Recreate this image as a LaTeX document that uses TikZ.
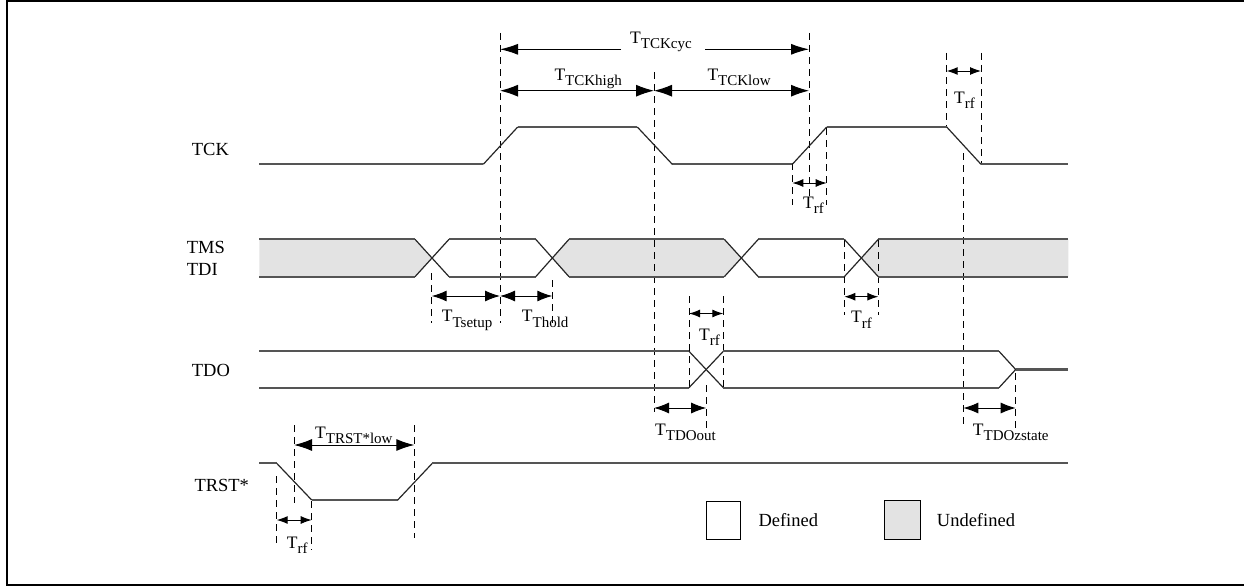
\documentclass[tikz,border=0pt]{standalone}
\usepackage{fontspec}
\setmainfont{Liberation Serif}
\usetikzlibrary{arrows.meta}
\definecolor{wavec}{HTML}{555555}
\definecolor{undef}{HTML}{E3E3E3}
\newcommand{\Tl}[1]{T\raisebox{-5.5pt}{\fontsize{15}{15}\selectfont #1}}
\begin{document}
\begin{tikzpicture}[x=1pt,y=-1pt,
 wire/.style={draw=wavec,line width=2.2pt},
 slope/.style={draw=black!85,line width=1.2pt},
 guide/.style={draw=black,line width=0.9pt,dash pattern=on 7pt off 5pt},
 dimbig/.style={draw=black,line width=1pt,{Latex[length=18pt,width=12pt]}-{Latex[length=18pt,width=12pt]}},
 dimmid/.style={draw=black,line width=1pt,{Latex[length=15pt,width=11pt]}-{Latex[length=15pt,width=11pt]}},
 dimsmall/.style={draw=black,line width=1pt,{Latex[length=11pt,width=8pt]}-{Latex[length=11pt,width=8pt]}},
 onehead/.style={draw=black,line width=1pt,-{Latex[length=18pt,width=11pt]}},
 sig/.style={anchor=base west,inner sep=0pt,font=\fontsize{18.5}{20}\selectfont},
 tlab/.style={anchor=base west,inner sep=0pt,font=\fontsize{17.5}{20}\selectfont},
 legbox/.style={draw=black,line width=1pt},
]
\useasboundingbox (0,0) rectangle (1244,586);
% frame
\draw[line width=2.5pt] (1244,1.2) -- (6.8,1.2) -- (6.8,584.8) -- (1244,584.8);

% ---------- TMS/TDI undefined fills ----------
\fill[undef] (259.3,239.3) -- (415,239.3) -- (432,258) -- (415,276.7) -- (259.3,276.7) -- cycle;
\fill[undef] (569,239.3) -- (724.3,239.3) -- (741.3,258) -- (724.3,276.7) -- (569,276.7) -- (552.3,258) -- cycle;
\fill[undef] (878.3,239.3) -- (1068.3,239.3) -- (1068.3,276.7) -- (878.3,276.7) -- (861.3,258) -- cycle;

% ---------- guide lines ----------
\draw[guide] (500,33) -- (500,323);
\draw[guide] (654,72) -- (654,412);
\draw[guide] (809,33) -- (809,196);
\draw[guide] (792.3,163) -- (792.3,205);
\draw[guide] (826.7,128) -- (826.7,205);
\draw[guide] (946.7,53) -- (946.7,127);
\draw[guide] (981,53) -- (981,164);
\draw[guide] (963.3,153) -- (963.3,427);
\draw[guide] (431.7,273) -- (431.7,323);
\draw[guide] (552.3,280) -- (552.3,323);
\draw[guide] (844.3,240) -- (844.3,315);
\draw[guide] (878.3,240) -- (878.3,315);
\draw[guide] (689,296) -- (689,390);
\draw[guide] (723.3,296) -- (723.3,390);
\draw[guide] (706.2,385) -- (706.2,430);
\draw[guide] (1015.7,373) -- (1015.7,430);
\draw[guide] (276.7,476) -- (276.7,547);
\draw[guide] (294,425) -- (294,503);
\draw[guide] (311.7,501) -- (311.7,550);
\draw[guide] (414.3,425) -- (414.3,538);

% ---------- TCK ----------
\draw[wire] (259.3,164.3) -- (483.3,164.3);
\draw[wire] (517.7,127) -- (637.3,127);
\draw[wire] (672.3,164.3) -- (792.3,164.3);
\draw[wire] (826.7,127) -- (946.7,127);
\draw[wire] (981,164.3) -- (1068.3,164.3);
\draw[slope] (483.3,164.3) -- (517.7,127);
\draw[slope] (637.3,127) -- (672.3,164.3);
\draw[slope] (792.3,164.3) -- (826.7,127);
\draw[slope] (946.7,127) -- (981,164.3);

% ---------- TMS/TDI ----------
\draw[wire] (259.3,239.3) -- (415,239.3);
\draw[wire] (259.3,276.7) -- (415,276.7);
\draw[wire] (449,239.3) -- (535.7,239.3);
\draw[wire] (449,276.7) -- (535.7,276.7);
\draw[wire] (569,239.3) -- (724.3,239.3);
\draw[wire] (569,276.7) -- (724.3,276.7);
\draw[wire] (758.3,239.3) -- (844.3,239.3);
\draw[wire] (758.3,276.7) -- (844.3,276.7);
\draw[wire] (878.3,239.3) -- (1068.3,239.3);
\draw[wire] (878.3,276.7) -- (1068.3,276.7);
\foreach \a/\b in {415/449,535.7/569,724.3/758.3,844.3/878.3}{
  \draw[slope] (\a,239.3) -- (\b,276.7);
  \draw[slope] (\a,276.7) -- (\b,239.3);
}

% ---------- TDO ----------
\draw[wire] (259.3,351.3) -- (689,351.3);
\draw[wire] (259.3,387.7) -- (689,387.7);
\draw[slope] (689,351.3) -- (723.3,387.7);
\draw[slope] (689,387.7) -- (723.3,351.3);
\draw[wire] (723.3,351.3) -- (999,351.3);
\draw[wire] (723.3,387.7) -- (999,387.7);
\draw[slope] (999,351.3) -- (1015.7,369.5) -- (999,387.7);
\draw[wire] (1015.7,369.5) -- (1068.3,369.5);

% ---------- TRST* ----------
\draw[wire] (259.3,463.3) -- (276.7,463.3);
\draw[slope] (276.7,463.3) -- (311.7,500);
\draw[wire] (311.7,500) -- (397.7,500);
\draw[slope] (397.7,500) -- (432.3,463.3);
\draw[wire] (432.3,463.3) -- (1068.3,463.3);

% ---------- dimension arrows ----------
\draw[onehead] (621,49.3) -- (500,49.3);
\draw[onehead] (705,49.3) -- (809,49.3);
\draw[dimbig] (500,90.7) -- (654,90.7);
\draw[dimbig] (654,90.7) -- (809,90.7);
\draw[dimsmall] (946.7,71) -- (981,71);
\draw[dimsmall] (792.3,183) -- (826.7,183);
\draw[dimmid] (431.7,296) -- (500,296);
\draw[dimmid] (500,296) -- (552.3,296);
\draw[dimsmall] (844.3,296.7) -- (878.3,296.7);
\draw[dimsmall] (689,313.5) -- (723.3,313.5);
\draw[dimmid] (654,408) -- (706.2,408);
\draw[dimmid] (963.3,408) -- (1015.7,408);
\draw[dimbig] (294,445) -- (414.3,445);
\draw[dimsmall] (276.7,520) -- (311.7,520);

% ---------- timing labels ----------
\node[tlab] (lcyc) at (630,43.3) {\Tl{TCKcyc}};
\node[tlab] (lhigh) at (554.3,80) {\Tl{TCKhigh}};
\node[tlab] (llow) at (707.3,80) {\Tl{TCKlow}};
\node[tlab] (lrf1) at (954,103) {\Tl{rf}};
\node[tlab] (lrf2) at (803,208) {\Tl{rf}};
\node[tlab] (lsetup) at (441.7,321.7) {\Tl{Tsetup}};
\node[tlab] (lhold) at (521.7,321.7) {\Tl{Thold}};
\node[tlab] (lrf3) at (851,322.7) {\Tl{rf}};
\node[tlab] (lrf4) at (699,340) {\Tl{rf}};
\node[tlab] (lout) at (655,435) {\Tl{TDOout}};
\node[tlab] (lz) at (972.7,435) {\Tl{TDOzstate}};
\node[tlab] (lrst) at (315,438.3) {\Tl{TRST*low}};
\node[tlab] (lrf5) at (286.7,548) {\Tl{rf}};

% ---------- signal names ----------
\node[sig] (ntck) at (191.7,155) {TCK};
\node[sig] (ntms) at (186.7,253.3) {TMS};
\node[sig] (ntdi) at (186.7,275) {TDI};
\node[sig] (ntdo) at (191.7,376.7) {TDO};
\node[sig] (ntrst) at (194.3,491.7) {TRST*};

% ---------- legend ----------
\draw[legbox,fill=white] (706,501) rectangle (740.7,539);
\draw[legbox,fill=undef] (884.3,500.5) rectangle (920,539);
\node[sig] (ldef) at (758.3,526.7) {Defined};
\node[sig] (lundef) at (936.7,526.7) {Undefined};
\end{tikzpicture}
\end{document}
